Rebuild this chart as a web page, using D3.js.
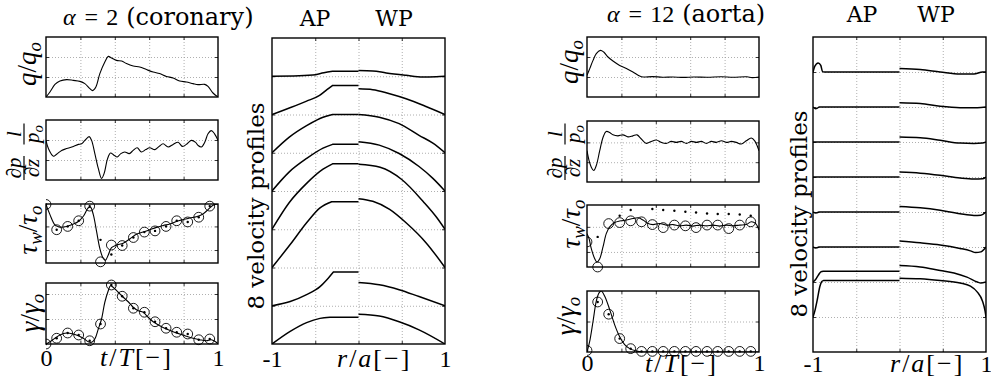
<!DOCTYPE html>
<html>
<head>
<meta charset="utf-8">
<script src="https://cdn.jsdelivr.net/npm/d3@7"></script>
<style>
  html, body { margin: 0; padding: 0; background: #fff; }
  svg { display: block; }
  .grid line { stroke: #9a9a9a; stroke-width: 0.8; stroke-dasharray: 1 2; }
  .inticks line { stroke: #000; stroke-width: 0.8; }
  .frame { fill: none; stroke: #000; stroke-width: 1.4; }
  .series { fill: none; stroke: #000; stroke-width: 1.1; }
  .profile { fill: none; stroke: #000; stroke-width: 1.5; }
  .marker { fill: none; stroke: #000; stroke-width: 0.9; }
  .dot { fill: #000; }
</style>
</head>
<body>
<svg id="fig" width="991" height="385"></svg>
<script>
// ---------- shared axis values ----------
const tTicks = [0, 1];
const tGrid = [0.2, 0.4, 0.6, 0.8];
const rTicks = [-1, 1];
const rGrid = [-0.5, 0, 0.5];
// instants at which the model samples (circles / dots)
const sampleTimes = [0, 0.062, 0.126, 0.19, 0.254, 0.317, 0.38, 0.443, 0.508, 0.572, 0.634, 0.698, 0.76, 0.824, 0.888, 0.952];

// ---------- alpha = 2 (coronary) ----------
const flowCoronary = [[0,0],[0.023,0.25],[0.052,0.63],[0.081,0.8],[0.12,0.87],[0.159,0.83],[0.197,0.78],[0.226,0.67],[0.255,0.42],[0.271,0.32],[0.29,0.5],[0.313,1.17],[0.342,1.75],[0.362,2.03],[0.381,1.95],[0.41,1.83],[0.44,1.8],[0.468,1.67],[0.507,1.55],[0.545,1.5],[0.584,1.37],[0.623,1.25],[0.66,1.17],[0.7,1.03],[0.739,0.95],[0.777,0.8],[0.816,0.75],[0.855,0.67],[0.884,0.62],[0.923,0.63],[0.942,0.53],[0.971,0.2],[1,0]];
const gradCoronary = [[0,1.98],[0.014,1.57],[0.043,1.19],[0.062,1.29],[0.091,1.48],[0.12,1.57],[0.159,1.68],[0.188,1.78],[0.207,1.81],[0.226,1.98],[0.251,2.17],[0.265,1.98],[0.284,1.32],[0.304,0.58],[0.323,0.08],[0.338,0.33],[0.358,1.07],[0.375,1.35],[0.395,1.24],[0.414,1.15],[0.435,1.32],[0.458,1.4],[0.484,1.32],[0.507,1.48],[0.53,1.61],[0.555,1.4],[0.58,1.52],[0.603,1.61],[0.633,1.52],[0.658,1.68],[0.681,1.81],[0.71,1.65],[0.739,1.78],[0.768,1.89],[0.793,1.68],[0.816,1.78],[0.845,1.98],[0.87,1.88],[0.884,1.73],[0.903,1.65],[0.923,1.89],[0.942,2.31],[0.961,2.47],[0.98,2.31],[1,1.98]];
const shearCoronary = [[0,2.93],[0.023,2.5],[0.052,2.07],[0.081,1.97],[0.12,2.0],[0.159,2.1],[0.188,2.21],[0.217,2.43],[0.246,2.79],[0.259,2.81],[0.275,2.5],[0.294,1.79],[0.313,1.07],[0.333,0.64],[0.346,0.57],[0.362,0.79],[0.381,1.1],[0.41,1.21],[0.449,1.29],[0.487,1.47],[0.526,1.67],[0.565,1.76],[0.603,1.86],[0.642,1.96],[0.681,2.04],[0.72,2.1],[0.758,2.21],[0.797,2.29],[0.836,2.36],[0.874,2.41],[0.913,2.53],[0.942,2.71],[0.971,2.9],[1,2.95]];
const shearCoronaryCircles = [2.93,1.86,2.0,2.24,2.86,0.5,1.21,1.19,1.53,1.76,1.81,2.0,2.24,2.19,2.39,2.86];
const shearCoronaryDots = [2.93,1.86,2.0,2.24,2.86,1.43,0.81,1.19,1.53,1.76,1.81,2.0,2.24,2.19,2.39,2.86];
const rateCoronary = [[0,0],[0.023,0.09],[0.052,0.23],[0.081,0.36],[0.12,0.44],[0.159,0.4],[0.188,0.33],[0.217,0.23],[0.246,0.09],[0.265,0.07],[0.284,0.2],[0.304,0.6],[0.323,1.0],[0.342,1.67],[0.362,2.13],[0.375,2.33],[0.39,2.27],[0.42,2.07],[0.449,1.87],[0.478,1.69],[0.507,1.47],[0.536,1.33],[0.565,1.27],[0.594,1.07],[0.623,0.89],[0.662,0.73],[0.7,0.6],[0.739,0.49],[0.777,0.4],[0.816,0.31],[0.855,0.23],[0.894,0.17],[0.932,0.13],[0.961,0.17],[0.99,0.07],[1,0]];
const rateCoronaryCircles = [0,0.23,0.44,0.36,0.13,0.8,2.36,1.91,1.43,1.27,0.89,0.63,0.47,0.4,0.17,0.2];

// approximate profiles (AP): wall-to-core rise, core stays flat up to r = 0
const apCoronary = [
  [[-1,0],[-0.75,0.005],[-0.53,0.03],[-0.4,0.09],[-0.3,0.13]],
  [[-1,0],[-0.8,0.17],[-0.6,0.35],[-0.45,0.5],[-0.365,0.65],[-0.3,0.76]],
  [[-1,0],[-0.8,0.41],[-0.6,0.71],[-0.41,0.93],[-0.3,1.0]],
  [[-1,0],[-0.8,0.5],[-0.6,0.85],[-0.41,1.12],[-0.3,1.22]],
  [[-1,0],[-0.8,0.7],[-0.6,1.2],[-0.41,1.57],[-0.3,1.71]],
  [[-1,0],[-0.79,0.6],[-0.6,1.17],[-0.445,1.56],[-0.31,1.72]],
  [[-1,0],[-0.79,0.11],[-0.6,0.29],[-0.445,0.5],[-0.35,0.72],[-0.29,0.88]],
  [[-1,0],[-0.79,0.33],[-0.6,0.56],[-0.445,0.67],[-0.33,0.7]]
];
// Womersley profiles (WP), centre to wall
const wpCoronary = [
  [[0,0.148],[0.165,0.14],[0.32,0.087],[0.55,0.026],[0.74,-0.017],[0.9,-0.01],[1,0]],
  [[0,0.67],[0.165,0.65],[0.36,0.54],[0.55,0.41],[0.78,0.21],[1,0]],
  [[0,1.0],[0.24,0.93],[0.47,0.76],[0.7,0.455],[0.86,0.25],[1,0]],
  [[0,1.29],[0.24,1.2],[0.47,0.98],[0.7,0.64],[0.86,0.33],[1,0]],
  [[0,1.7],[0.25,1.62],[0.5,1.3],[0.75,0.72],[0.9,0.32],[1,0]],
  [[0,1.8],[0.165,1.73],[0.36,1.52],[0.55,1.17],[0.78,0.65],[1,0]],
  [[0,0.61],[0.24,0.55],[0.47,0.42],[0.7,0.24],[1,0]],
  [[0,0.78],[0.24,0.73],[0.47,0.58],[0.7,0.37],[1,0]]
];

// ---------- alpha = 12 (aorta) ----------
const flowAorta = [[0,1.08],[0.016,1.42],[0.035,1.83],[0.054,2.17],[0.078,2.33],[0.097,2.25],[0.122,2.0],[0.151,1.8],[0.19,1.58],[0.229,1.42],[0.267,1.25],[0.306,1.05],[0.326,1.0],[0.38,1.02],[0.44,0.99],[0.5,1.0],[0.56,0.98],[0.62,1.0],[0.7,0.99],[0.78,1.01],[0.85,0.99],[0.93,1.01],[0.96,0.97],[1,1.0]];
const gradAorta = [[0,1.58],[0.012,1.08],[0.025,0.75],[0.039,0.58],[0.054,0.83],[0.074,1.58],[0.093,2.25],[0.112,2.55],[0.132,2.5],[0.151,2.38],[0.18,2.33],[0.209,2.38],[0.238,2.28],[0.267,2.33],[0.291,2.38],[0.316,2.17],[0.345,1.95],[0.374,2.05],[0.403,2.12],[0.432,2.0],[0.461,1.95],[0.49,2.05],[0.519,2.0],[0.548,2.05],[0.578,1.95],[0.607,2.05],[0.636,2.0],[0.665,2.05],[0.694,1.95],[0.723,2.05],[0.752,2.0],[0.782,2.08],[0.81,2.0],[0.839,2.05],[0.868,2.0],[0.897,1.92],[0.926,2.08],[0.955,2.22],[0.975,2.08],[1,1.58]];
const shearAorta = [[0,1.73],[0.012,1.53],[0.025,1.13],[0.045,0.73],[0.058,0.6],[0.074,0.73],[0.093,1.2],[0.112,1.73],[0.132,2.0],[0.161,2.17],[0.19,2.23],[0.229,2.27],[0.267,2.33],[0.297,2.36],[0.326,2.27],[0.355,2.13],[0.384,2.09],[0.422,2.13],[0.461,2.07],[0.5,2.09],[0.539,2.04],[0.578,2.07],[0.616,2.03],[0.655,2.07],[0.694,2.04],[0.733,2.07],[0.771,2.03],[0.81,2.07],[0.849,2.04],[0.888,2.07],[0.926,2.09],[0.955,2.2],[0.981,2.13],[1,1.87]];
const shearAortaCircles = [1.4,0.4,2.13,2.17,2.24,2.2,2.09,1.97,2.07,2.04,1.97,2.07,2.07,1.93,2.07,2.2];
const shearAortaDots = [null,1.6,null,2.44,2.67,null,2.71,2.67,2.64,2.6,2.57,2.53,2.51,2.51,2.49,2.44];
const rateAorta = [[0,0],[0.015,0.33],[0.035,1.0],[0.054,1.67],[0.07,1.94],[0.083,2.0],[0.103,1.83],[0.132,1.39],[0.161,0.89],[0.19,0.5],[0.219,0.24],[0.248,0.11],[0.287,0.03],[0.326,0],[0.5,0],[0.75,0],[1,0]];
const rateAortaCircles = [0.05,1.64,1.24,0.44,0.11,0.02,0.02,0.02,0.02,0.02,0.02,0.02,0.02,0.02,0.02,0.02];

const apAorta = [
  [[-1,0],[-0.98,0.16],[-0.94,0.26],[-0.91,0.19],[-0.89,0.01],[-0.87,0]],
  [[-1,0],[-0.97,-0.05],[-0.93,0]],
  [[-1,0],[-0.95,0]],
  [[-1,0],[-0.95,0]],
  [[-1,0],[-0.97,-0.03],[-0.93,0]],
  [[-1,0],[-0.97,-0.03],[-0.93,0]],
  [[-1,0],[-0.97,0.07],[-0.94,0.19],[-0.91,0.29],[-0.88,0.31]],
  [[-1,0],[-0.98,0.16],[-0.95,0.5],[-0.92,0.88],[-0.9,1.01],[-0.88,1.04]]
];
const wpAorta = [
  [[0,0.1],[0.24,0.07],[0.47,0],[0.7,-0.06],[0.86,-0.06],[0.96,0],[1,0]],
  [[0,0.12],[0.24,0.1],[0.47,0.02],[0.7,-0.02],[0.9,-0.02],[1,0]],
  [[0,0.14],[0.24,0.12],[0.47,0.05],[0.7,-0.03],[0.86,-0.04],[0.96,-0.03],[1,0]],
  [[0,0.14],[0.24,0.11],[0.47,0.05],[0.7,-0.03],[0.86,-0.06],[0.96,-0.05],[1,0]],
  [[0,0.16],[0.24,0.12],[0.47,0.05],[0.7,-0.05],[0.86,-0.1],[0.94,-0.09],[1,0]],
  [[0,0.17],[0.24,0.12],[0.47,0.06],[0.7,-0.04],[0.82,-0.11],[0.88,-0.16],[0.94,-0.14],[1,0]],
  [[0,0.47],[0.24,0.43],[0.47,0.33],[0.63,0.26],[0.78,0.14],[0.9,0],[0.94,-0.03],[1,0]],
  [[0,1.11],[0.24,1.09],[0.47,1.04],[0.7,0.97],[0.82,0.88],[0.9,0.71],[0.96,0.45],[0.99,0.16],[1,0]]
];

// ---------- drawing ----------
const svg = d3.select("#fig");
const MATH = "'Liberation Serif', 'DejaVu Serif', serif";
const TEXT = "'DejaVu Serif', 'Liberation Serif', serif";
let clipId = 0;

function frame(b, xDomain, yDomain, xGrid, yGrid) {
  const g = svg.append("g");
  const x = d3.scaleLinear().domain(xDomain).range([b.x0, b.x1]);
  const y = d3.scaleLinear().domain(yDomain).range([b.y1, b.y0]);
  const w = b.x1 - b.x0, h = b.y1 - b.y0;
  const strip = s => s.call(a => a.select(".domain").remove());
  g.append("g").attr("class", "grid").attr("transform", `translate(0,${b.y1})`)
    .call(d3.axisBottom(x).tickValues(xGrid).tickSize(-h).tickFormat("")).call(strip);
  g.append("g").attr("class", "grid").attr("transform", `translate(${b.x0},0)`)
    .call(d3.axisLeft(y).tickValues(yGrid).tickSize(-w).tickFormat("")).call(strip);
  // short inward ticks on every side
  g.append("g").attr("class", "inticks").attr("transform", `translate(0,${b.y1})`)
    .call(d3.axisBottom(x).tickValues(xGrid).tickSize(-3).tickFormat("")).call(strip);
  g.append("g").attr("class", "inticks").attr("transform", `translate(0,${b.y0})`)
    .call(d3.axisTop(x).tickValues(xGrid).tickSize(-3).tickFormat("")).call(strip);
  g.append("g").attr("class", "inticks").attr("transform", `translate(${b.x0},0)`)
    .call(d3.axisLeft(y).tickValues(yGrid).tickSize(-3).tickFormat("")).call(strip);
  g.append("g").attr("class", "inticks").attr("transform", `translate(${b.x1},0)`)
    .call(d3.axisRight(y).tickValues(yGrid).tickSize(-3).tickFormat("")).call(strip);

  const id = "clip" + (clipId++);
  svg.append("clipPath").attr("id", id).append("rect")
    .attr("x", b.x0).attr("y", b.y0).attr("width", w).attr("height", h);
  const idH = "clip" + (clipId++);
  svg.append("clipPath").attr("id", idH).append("rect")
    .attr("x", b.x0).attr("y", b.y0 - 30).attr("width", w).attr("height", h + 60);
  const plot = g.append("g").attr("clip-path", `url(#${id})`);
  const marks = g.append("g").attr("clip-path", `url(#${idH})`);
  const border = g.append("rect").attr("class", "frame")
    .attr("x", b.x0).attr("y", b.y0).attr("width", w).attr("height", h);
  return { g, x, y, plot, marks, border };
}

function tickLabels(p, b, values, pad, size) {
  p.g.append("g").attr("transform", `translate(0,${b.y1})`)
    .call(d3.axisBottom(p.x).tickValues(values).tickSize(0).tickPadding(pad).tickFormat(d => String(d)))
    .call(a => a.select(".domain").remove())
    .call(a => a.selectAll("text").attr("font-family", MATH).attr("font-size", size).attr("fill", "#000"));
}

function timePanel(b, yDomain, yGrid, series, circles, dots) {
  const p = frame(b, [0, 1], yDomain, tGrid, yGrid);
  const line = d3.line().x(d => p.x(d[0])).y(d => p.y(d[1])).curve(d3.curveCatmullRom.alpha(0.5));
  p.plot.append("path").attr("class", "series").attr("d", line(series));
  if (circles) {
    p.marks.selectAll("circle.marker").data(circles).join("circle").attr("class", "marker")
      .attr("cx", (d, i) => p.x(sampleTimes[i])).attr("cy", d => p.y(d)).attr("r", 4.9);
  }
  if (dots) {
    const pts = dots.map((d, i) => [sampleTimes[i], d]).filter(d => d[1] !== null);
    p.marks.selectAll("circle.dot").data(pts).join("circle").attr("class", "dot")
      .attr("cx", d => p.x(d[0])).attr("cy", d => p.y(d[1])).attr("r", 1.2);
  }
  p.border.raise();
  return p;
}

function profilePanel(b, nRows, baselines, ap, wp) {
  const grid = d3.range(1, nRows);
  const p = frame(b, [-1, 1], [0, nRows], rGrid, grid);
  const line = d3.line().x(d => p.x(d[0])).y(d => p.y(d[1])).curve(d3.curveMonotoneX);
  ap.forEach((rise, k) => {
    const base = baselines[k];
    const pts = rise.map(d => [d[0], base + d[1]]);
    const core = pts[pts.length - 1];
    // rising part, then a flat core out to the centreline
    p.plot.append("path").attr("class", "profile")
      .attr("d", line(pts) + `L${p.x(0)},${p.y(core[1])}`);
  });
  wp.forEach((prof, k) => {
    const base = baselines[k];
    p.plot.append("path").attr("class", "profile")
      .attr("d", line(prof.map(d => [d[0], base + d[1]])));
  });
  p.border.raise();
  return p;
}

// parts: [string, style, dx]; style letters: i = italic, s = subscript, t = text font
function mathText(parent, parts, size) {
  const t = parent.append("text").attr("font-family", MATH).attr("font-size", size).attr("fill", "#000");
  let sub = false;
  parts.forEach(([s, st, dx]) => {
    const ts = t.append("tspan").text(s);
    if (st.includes("i")) ts.attr("font-style", "italic");
    if (st.includes("t")) ts.attr("font-family", TEXT);
    if (dx) ts.attr("dx", dx);
    if (st.includes("s")) {
      ts.attr("font-size", size * 0.7);
      if (!sub) ts.attr("dy", size * 0.2);
      sub = true;
    } else {
      if (sub) ts.attr("dy", -size * 0.2);
      sub = false;
    }
  });
  return t;
}

function ylabel(cx, cy, parts, size) {
  const g = svg.append("g").attr("transform", `translate(${cx},${cy}) rotate(-90)`);
  mathText(g, parts, size).attr("text-anchor", "middle");
  return g;
}

function gradLabel(cx, cy, size) {
  const g = svg.append("g").attr("transform", `translate(${cx},${cy}) rotate(-90)`);
  const frac = (c, top, bottom, wBar) => {
    mathText(g, top, size).attr("x", c).attr("y", -3).attr("text-anchor", "middle");
    mathText(g, bottom, size).attr("x", c).attr("y", size * 0.72).attr("text-anchor", "middle");
    g.append("line").attr("x1", c - wBar / 2).attr("x2", c + wBar / 2).attr("y1", 0).attr("y2", 0)
      .attr("stroke", "#000").attr("stroke-width", 1.2);
  };
  frac(-16, [["∂", "i"], ["p", "i"]], [["∂", "i"], ["z", "i"]], size * 1.15);
  frac(18, [["l", "i"]], [["p", "i"], ["o", "is"]], size * 1.0);
}

// ---- left figure: coronary ----
const L = { x0: 46, x1: 218 };
timePanel({ ...L, y0: 37, y1: 97 }, [0, 3], [1, 2], flowCoronary);
timePanel({ ...L, y0: 120, y1: 180 }, [0, 3], [1, 2], gradCoronary);
timePanel({ ...L, y0: 204, y1: 263 }, [0.45, 2.95], [1, 2], shearCoronary, shearCoronaryCircles, shearCoronaryDots);
const lb4 = { ...L, y0: 283, y1: 344 };
const lp4 = timePanel(lb4, [0, 2.44], [1, 2], rateCoronary, rateCoronaryCircles, rateCoronaryCircles);
tickLabels(lp4, lb4, tTicks, 5, 24);

const lvb = { x0: 272, x1: 445, y0: 38, y1: 344 };
const lv = profilePanel(lvb, 8, d3.range(7, -1, -1), apCoronary, wpCoronary);
tickLabels(lv, lvb, rTicks, 6, 24);

// ---- right figure: aorta ----
const R = { x0: 587, x1: 759 };
timePanel({ ...R, y0: 37, y1: 97 }, [0, 3], [1, 2], flowAorta);
timePanel({ ...R, y0: 121, y1: 182 }, [0, 3.08], [1, 2], gradAorta);
timePanel({ ...R, y0: 205, y1: 267 }, [0.4, 2.87], [1, 2], shearAorta, shearAortaCircles, shearAortaDots);
const rb4 = { ...R, y0: 291, y1: 352 };
const rp4 = timePanel(rb4, [0, 2], [1], rateAorta, rateAortaCircles, rateAortaCircles);
tickLabels(rp4, rb4, tTicks, 2, 24);

const rvb = { x0: 813, x1: 986, y0: 37, y1: 352 };
const rv = profilePanel(rvb, 9, d3.range(8, 0, -1), apAorta, wpAorta);
tickLabels(rv, rvb, rTicks, 3, 24);

// ---- titles ----
const title = (x, y, parts) => mathText(svg, parts, 24).attr("x", x).attr("y", y);
title(63, 25, [["α", "i"], ["=", "", 9], ["2", "", 8], ["(coronary)", "t", 8]]);
title(607, 22, [["α", "i"], ["=", "", 9], ["12", "", 8], ["(aorta)", "t", 8]]);
const head = (x, y, s) => svg.append("text").attr("x", x).attr("y", y).attr("text-anchor", "middle")
  .attr("font-family", TEXT).attr("font-size", 22).text(s);
head(315, 26, "AP"); head(394, 26, "WP");
head(862, 22, "AP"); head(936, 22, "WP");

// ---- axis titles ----
mathText(svg, [["t", "i"], ["/", ""], ["T", "i"], ["[−]", ""]], 26).attr("x", 100).attr("y", 366).attr("letter-spacing", 2);
mathText(svg, [["r", "i"], ["/", ""], ["a", "i"], ["[−]", ""]], 26).attr("x", 337).attr("y", 367).attr("letter-spacing", 2);
mathText(svg, [["t", "i"], ["/", ""], ["T", "i"], ["[−]", ""]], 26).attr("x", 645).attr("y", 372).attr("letter-spacing", 2);
mathText(svg, [["r", "i"], ["/", ""], ["a", "i"], ["[−]", ""]], 26).attr("x", 890).attr("y", 372).attr("letter-spacing", 2);

// ---- y labels ----
ylabel(36, 64, [["q", "i"], ["/", ""], ["q", "i"], ["o", "is"]], 27);
gradLabel(24, 152, 21);
ylabel(37, 230, [["τ", "i"], ["w", "is"], ["/", ""], ["τ", "i"], ["o", "is"]], 27);
ylabel(39, 313, [["γ", "i"], ["/", ""], ["γ", "i"], ["o", "is"]], 27);

ylabel(578, 62, [["q", "i"], ["/", ""], ["q", "i"], ["o", "is"]], 27);
gradLabel(565, 152, 21);
ylabel(580, 224, [["τ", "i"], ["w", "is"], ["/", ""], ["τ", "i"], ["o", "is"]], 27);
ylabel(575, 316, [["γ", "i"], ["/", ""], ["γ", "i"], ["o", "is"]], 27);

const vlabel = (cx, cy) => svg.append("text")
  .attr("transform", `translate(${cx},${cy}) rotate(-90)`)
  .attr("text-anchor", "middle").attr("font-family", TEXT).attr("font-size", 23)
  .text("8 velocity profiles");
vlabel(264, 206);
vlabel(807, 214);
</script>
</body>
</html>
